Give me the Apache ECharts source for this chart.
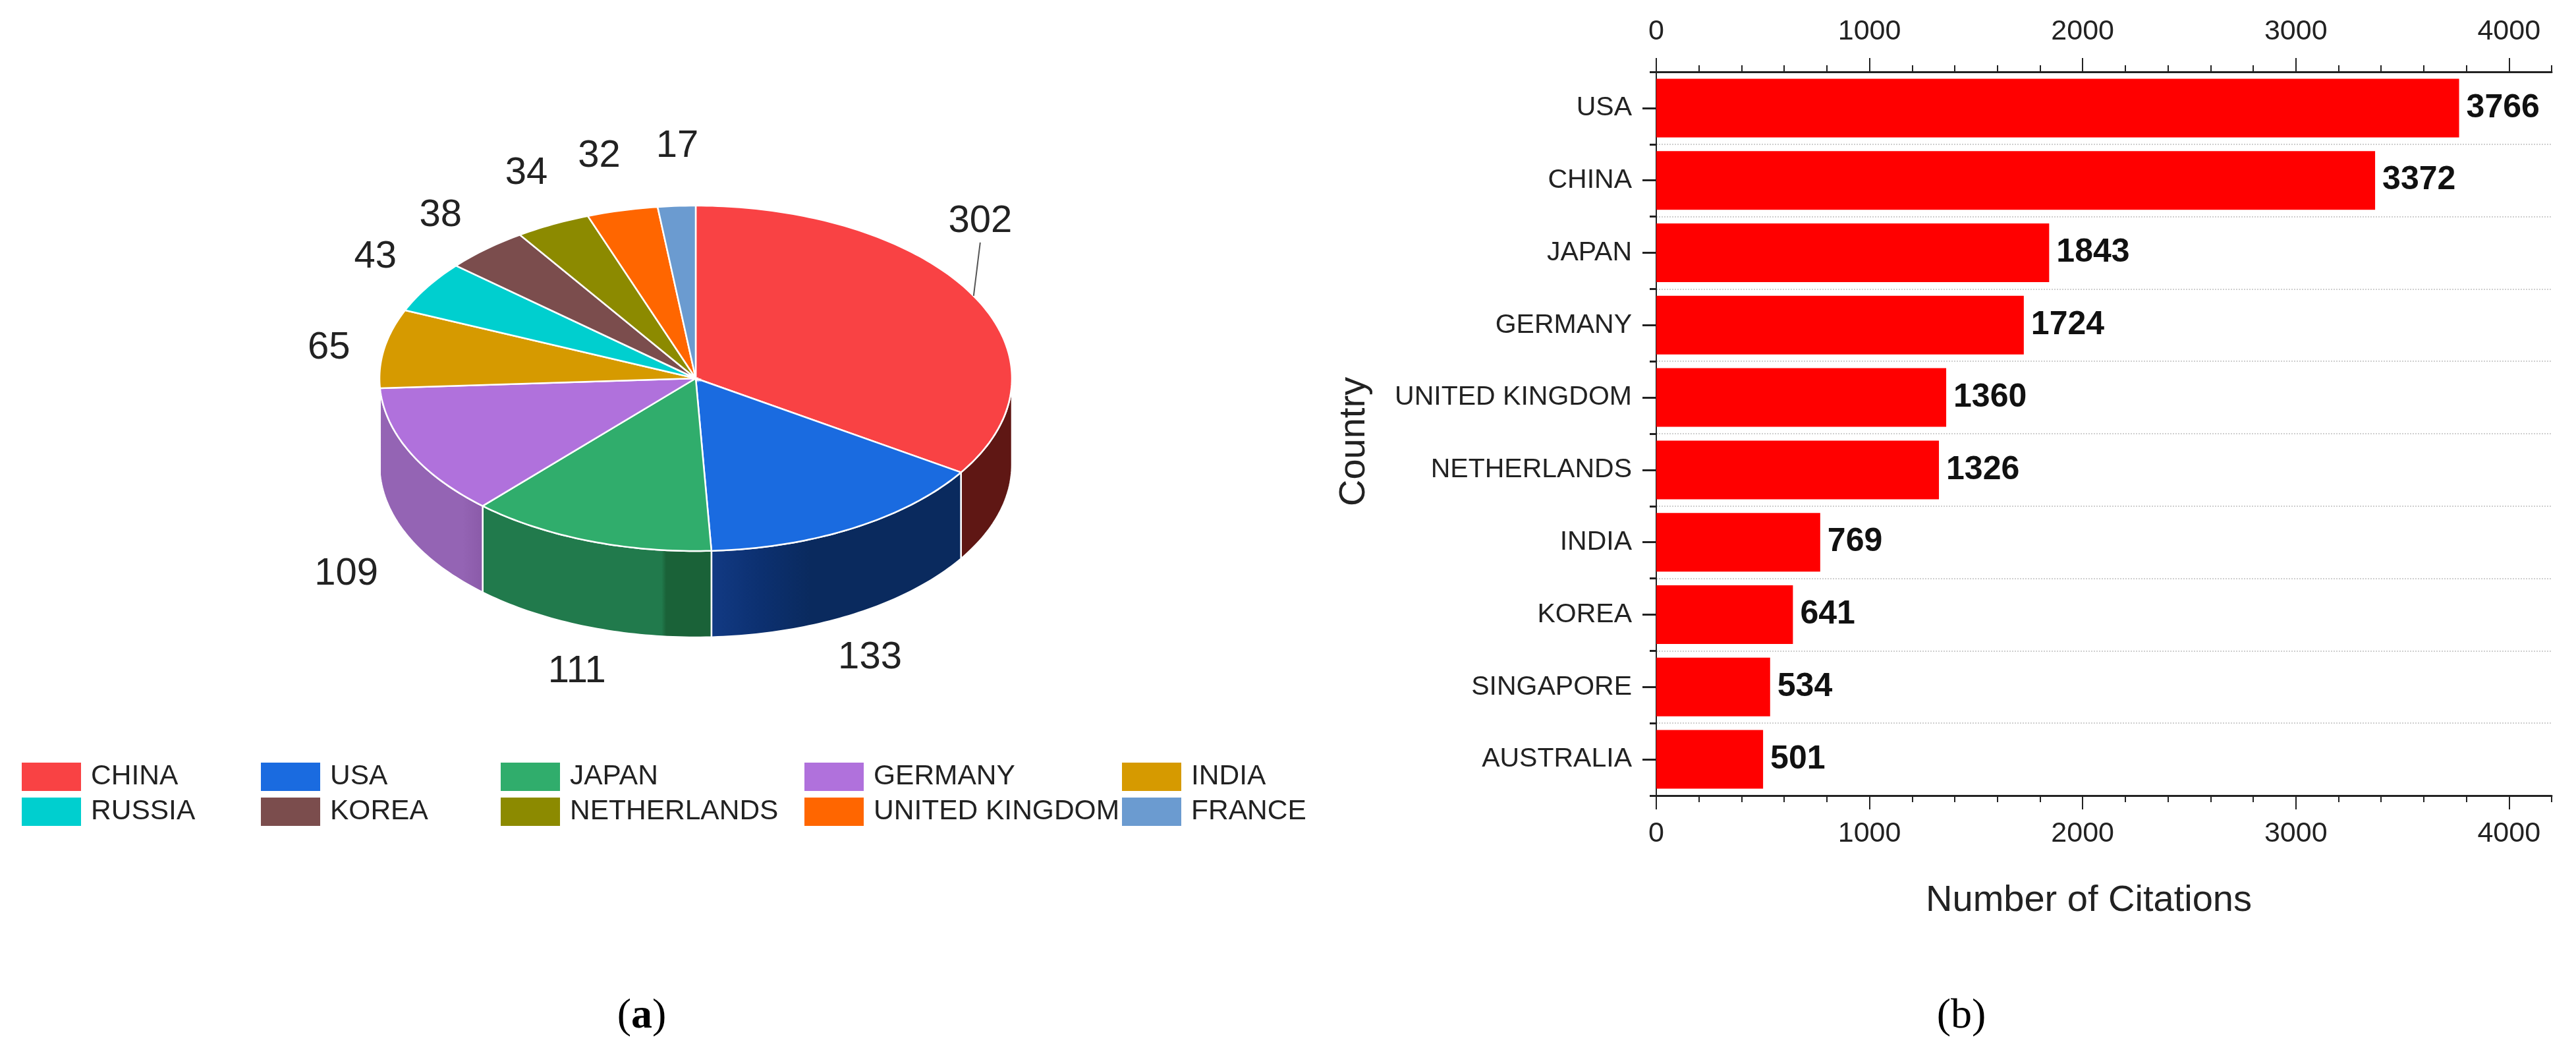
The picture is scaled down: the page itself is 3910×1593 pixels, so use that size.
<!DOCTYPE html>
<html>
<head>
<meta charset="utf-8">
<title>Publications and citations by country</title>
<script src="https://cdn.jsdelivr.net/npm/echarts@6/dist/echarts.min.js"></script>
<style>
html, body { margin: 0; padding: 0; background: #fff; }
#main { width: 3910px; height: 1593px; }
</style>
</head>
<body>
<div id="main"></div>
<script>
// pie data
var pieNames = ['CHINA', 'USA', 'JAPAN', 'GERMANY', 'INDIA', 'RUSSIA', 'KOREA', 'NETHERLANDS', 'UNITED KINGDOM', 'FRANCE'];
var pieValues = [302, 133, 111, 109, 65, 43, 38, 34, 32, 17];

// bar data
var barNames = ['USA', 'CHINA', 'JAPAN', 'GERMANY', 'UNITED KINGDOM', 'NETHERLANDS', 'INDIA', 'KOREA', 'SINGAPORE', 'AUSTRALIA'];
var barValues = [3766, 3372, 1843, 1724, 1360, 1326, 769, 641, 534, 501];

// axis ticks
var majorTicks = [0, 1000, 2000, 3000, 4000];
var minorTicks = [200, 400, 600, 800, 1200, 1400, 1600, 1800, 2200, 2400, 2600, 2800, 3200, 3400, 3600, 3800, 4200];

// styles for the pie
var topColors = ['#f94244', '#1a6be0', '#30ad6c', '#b071dc', '#d69a00', '#00cfcf', '#7b4d4d', '#8c8a00', '#ff6600', '#6b9bd0'];
var sideStops = [
    [[0, '#5f1714'], [1, '#5f1714']],
    [[0, '#123a84'], [0.2, '#0c3070'], [0.4, '#0a2a5e'], [1, '#0a2a5e']],
    [[0, '#217a4c'], [0.78, '#217a4c'], [0.8, '#1a6238'], [1, '#1a6238']],
    [[0, '#9464b4'], [0.8, '#9464b4'], [1, '#8a5aa8']],
    [[0, '#8a6400'], [1, '#8a6400']]
];
// label offset from the middle of each slice's rim
var labelOffsets = [[10, -113], [25, 197], [-18, 198], [-97, 184], [-84, -1], [-79, -45], [-69, -51], [-40, -77], [-35, -82], [1, -90]];
var legendColumns = [['CHINA', 'RUSSIA'], ['USA', 'KOREA'], ['JAPAN', 'NETHERLANDS'], ['GERMANY', 'UNITED KINGDOM'], ['INDIA', 'FRANCE']];
var legendLeft = [33, 396, 760, 1221, 1703];

var sans = '"Liberation Sans", Arial, sans-serif';
var serif = '"Liberation Serif", "Times New Roman", serif';
var cx = 1056, cy = 574, rx = 480, ry = 262, depth = 131;

var total = pieValues.reduce(function (a, b) { return a + b; }, 0);

function rim(deg, drop) {
    var t = deg * Math.PI / 180;
    return [cx + rx * Math.sin(t), cy - ry * Math.cos(t) + (drop || 0)];
}

// one squashed slice: side wall (front half only), top face, value label
function renderSlice(idx, value) {
    var before = 0;
    for (var i = 0; i < idx; i++) before += pieValues[i];
    var a0 = before / total * 360;
    var a1 = (before + value) / total * 360;
    var children = [];

    var s0 = Math.max(a0, 90), s1 = Math.min(a1, 270);
    if (s1 > s0) {
        var wall = [], back = [];
        for (var d = s0; d < s1; d += 1) {
            wall.push(rim(d));
            back.unshift(rim(d, depth));
        }
        wall.push(rim(s1));
        back.unshift(rim(s1, depth));
        children.push({
            type: 'polygon',
            shape: { points: wall.concat(back) },
            style: {
                fill: new echarts.graphic.LinearGradient(0, 0, 1, 0, (sideStops[idx] || [[0, '#666'], [1, '#666']]).map(function (s) {
                    return { offset: s[0], color: s[1] };
                })),
                stroke: '#fff',
                lineWidth: 2.5
            }
        });
    }

    var face = [[cx, cy]];
    for (var k = a0; k < a1; k += 1) face.push(rim(k));
    face.push(rim(a1));
    children.push({
        type: 'polygon',
        z2: 2,
        shape: { points: face },
        style: { fill: topColors[idx], stroke: '#fff', lineWidth: 2.5 }
    });

    var mid = rim((a0 + a1) / 2);
    var off = labelOffsets[idx];
    children.push({
        type: 'text',
        z2: 3,
        style: {
            text: String(value),
            x: mid[0] + off[0],
            y: mid[1] + off[1],
            fill: '#222',
            fontSize: 58,
            fontFamily: sans,
            align: 'center',
            verticalAlign: 'middle'
        }
    });
    // only the biggest slice has a leader line
    if (idx === 0) {
        children.push({
            type: 'line',
            z2: 3,
            shape: { x1: mid[0], y1: mid[1], x2: mid[0] + off[0], y2: mid[1] + off[1] + 32 },
            style: { stroke: '#555', lineWidth: 2 }
        });
    }
    return { type: 'group', children: children };
}

var pieSeries = pieNames.map(function (name, idx) {
    return {
        name: name,
        type: 'custom',
        coordinateSystem: 'none',
        silent: true,
        itemStyle: { color: topColors[idx] },
        data: [[pieValues[idx]]],
        renderItem: function (params, api) {
            return renderSlice(idx, api.value(0));
        }
    };
});

var legends = legendColumns.map(function (col, i) {
    return {
        data: col,
        orient: 'vertical',
        left: legendLeft[i],
        top: 1157,
        padding: 0,
        itemGap: 10,
        itemWidth: 90,
        itemHeight: 43,
        icon: 'rect',
        selectedMode: false,
        textStyle: { fontSize: 42.5, fontFamily: sans, color: '#222', padding: [0, 0, 0, 10] }
    };
});

function makeValueAxis(pos, withLabels) {
    return {
        type: 'value',
        position: pos,
        min: 0,
        max: 4200,
        interval: 1000,
        splitLine: { show: false },
        axisLine: { show: withLabels, lineStyle: { color: '#222', width: 3 } },
        axisTick: {
            show: true,
            length: withLabels ? 21 : 10,
            lineStyle: { color: '#222', width: 2 },
            customValues: withLabels ? majorTicks : minorTicks
        },
        axisLabel: {
            show: withLabels,
            margin: pos === 'top' ? 39 : 37,
            fontSize: 43,
            fontFamily: sans,
            color: '#222',
            customValues: majorTicks,
            formatter: function (v) { return String(v); }
        }
    };
}

var xAxes = [
    makeValueAxis('bottom', true),
    makeValueAxis('bottom', false),
    makeValueAxis('top', true),
    makeValueAxis('top', false)
];
xAxes[0].name = 'Number of Citations';
xAxes[0].nameLocation = 'middle';
xAxes[0].nameGap = 132;
xAxes[0].nameTextStyle = { fontSize: 56, fontFamily: sans, color: '#222', padding: [0, 46, 0, 0] };

var option = {
    animation: false,
    backgroundColor: '#fff',
    title: [
        { text: '({b|a})', left: 969, top: 1505, textAlign: 'center', textStyle: { fontSize: 64, fontWeight: 'normal', fontFamily: serif, color: '#000', rich: { b: { fontSize: 64, fontWeight: 'bold', fontFamily: serif, color: '#000' } } } },
        { text: '(b)', left: 2972, top: 1505, textAlign: 'center', textStyle: { fontSize: 64, fontWeight: 'normal', fontFamily: serif, color: '#000' } }
    ],
    legend: legends,
    grid: { left: 2514, top: 109, width: 1359, height: 1098 },
    xAxis: xAxes,
    yAxis: [
        {
            type: 'category',
            data: barNames,
            inverse: true,
            position: 'left',
            name: 'Country',
            nameLocation: 'middle',
            nameGap: 430,
            nameTextStyle: { fontSize: 56, fontFamily: sans, color: '#222', padding: [0, 24, 0, 0] },
            axisLine: { show: true, lineStyle: { color: '#222', width: 2 } },
            axisTick: { show: true, alignWithLabel: true, interval: 0, length: 21, lineStyle: { color: '#222', width: 3 } },
            axisLabel: { interval: 0, margin: 37, fontSize: 41, fontFamily: sans, color: '#222' },
            splitLine: { show: false }
        },
        {
            type: 'category',
            data: barNames,
            inverse: true,
            position: 'left',
            axisLine: { show: false },
            axisTick: { show: true, interval: 0, length: 10, lineStyle: { color: '#222', width: 3 } },
            axisLabel: { show: false },
            splitLine: { show: true, interval: 0, lineStyle: { color: '#cfcfcf', type: 'dotted', width: 2 } }
        }
    ],
    series: pieSeries.concat([{
        name: 'Citations',
        type: 'bar',
        xAxisIndex: 0,
        yAxisIndex: 0,
        data: barValues,
        barWidth: 89,
        itemStyle: { color: '#ff0000' },
        label: { show: true, position: 'right', distance: 11, fontSize: 50, fontWeight: 'bold', fontFamily: sans, color: '#111' }
    }])
};

var chart = echarts.init(document.getElementById('main'));
chart.setOption(option);
</script>
</body>
</html>
